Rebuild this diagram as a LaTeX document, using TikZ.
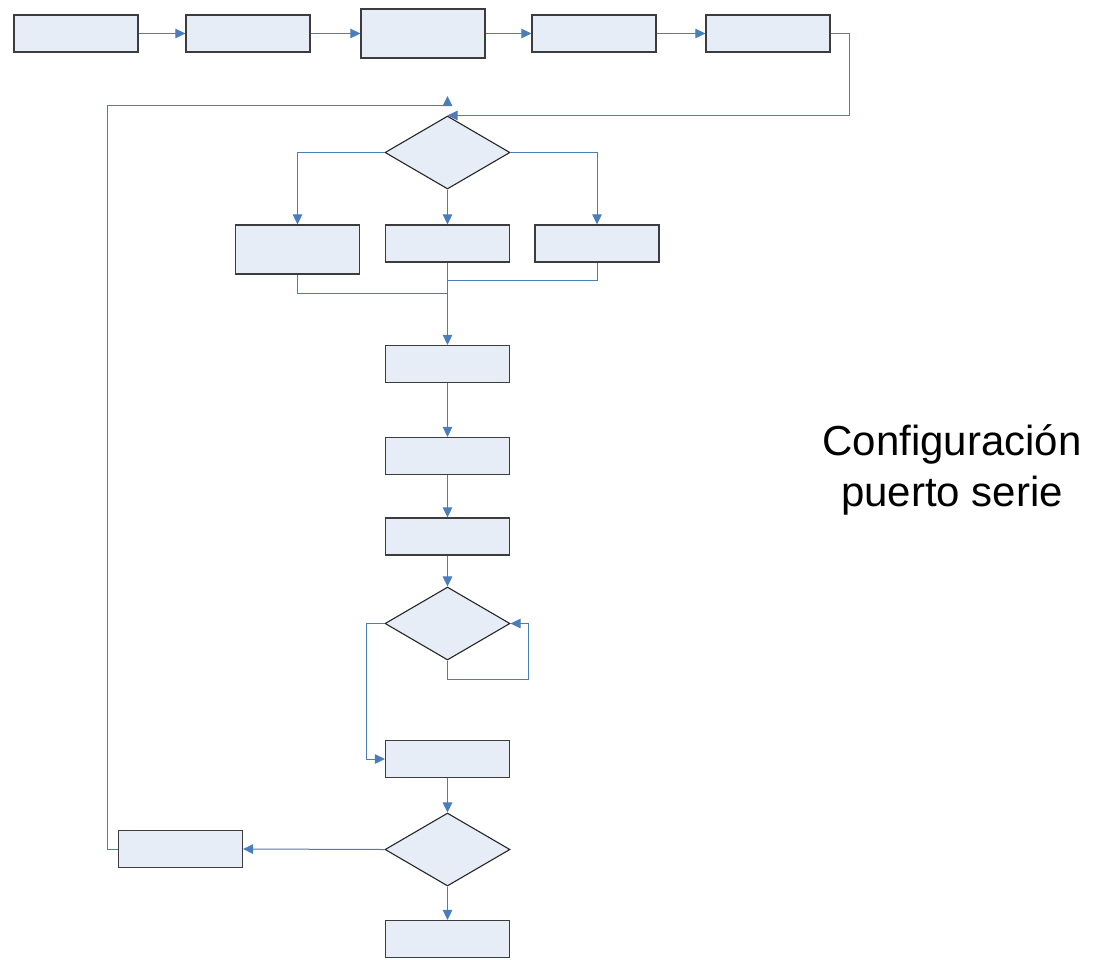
\documentclass[tikz,border=0pt]{standalone}
\usepackage{fontspec}
\setmainfont{Liberation Sans}
\usetikzlibrary{shapes.geometric,arrows.meta}
\definecolor{boxfill}{RGB}{230,237,247}
\definecolor{flowblue}{RGB}{74,126,187}
\definecolor{edgegray}{RGB}{60,60,60}
\tikzset{
  procbox/.style={draw=edgegray, line width=1.2pt, fill=boxfill, inner sep=0pt,
    minimum width=124pt, minimum height=37pt},
  tallbox/.style={procbox, minimum height=49pt},
  decision/.style={diamond, draw=black!85, line width=1.1pt, fill=boxfill, inner sep=0pt,
    minimum width=125pt, minimum height=73pt},
  conn/.style={draw=flowblue, line width=1pt, -{Triangle[length=10pt,width=9.5pt]}},
  plain/.style={draw=flowblue, line width=1pt},
  caption/.style={font=\fontsize{42}{51}\selectfont, align=center}
}
\begin{document}
\begin{tikzpicture}[x=1pt, y=-1pt]
  \useasboundingbox (0,0) rectangle (1099,959);

  % top row
  \node[procbox] (b1) at (76,33.5) {};
  \node[procbox] (b2) at (248,33.5) {};
  \node[tallbox] (b3) at (423,33.5) {};
  \node[procbox] (b4) at (594,33.5) {};
  \node[procbox] (b5) at (768,33.5) {};

  % first decision and its three branches
  \node[decision] (d1) at (447.5,152.5) {};
  \node[tallbox]  (bL) at (297.5,249.5) {};
  \node[procbox]  (bM) at (447.5,243.5) {};
  \node[procbox]  (bR) at (597,243.5) {};

  % main column
  \node[procbox]  (bA) at (447.5,364) {};
  \node[procbox]  (bB) at (447.5,456) {};
  \node[procbox]  (bC) at (447.5,536.5) {};
  \node[decision] (d2) at (447.5,623.5) {};
  \node[procbox]  (bD) at (447.5,759) {};
  \node[decision] (d3) at (447.5,849.5) {};
  \node[procbox]  (bE) at (180.5,849) {};
  \node[procbox]  (bF) at (447.5,939) {};

  % caption
  \node[caption] (cap) at (952,470) {Configuración\\puerto serie};

  % helper points
  \coordinate (mL) at (447.5,293);
  \coordinate (mR) at (447.5,280);
  \coordinate (retl) at (447.5,105);
  \coordinate (ret) at (447.5,96);

  % top row connectors
  \draw[conn] (b1) -- (b2);
  \draw[conn] (b2) -- (b3);
  \draw[conn] (b3) -- (b4);
  \draw[conn] (b4) -- (b5);
  \draw[conn] (b5.east) -- ++(19,0) |- (d1.north);

  % branches
  \draw[conn] (d1.west) -| (bL.north);
  \draw[conn] (d1.south) -- (bM.north);
  \draw[conn] (d1.east) -| (bR.north);
  \draw[plain] (bL.south) |- (mL);
  \draw[plain] (bR.south) |- (mR);
  \draw[conn] (bM.south) -- (bA.north);

  % main column
  \draw[conn] (bA) -- (bB);
  \draw[conn] (bB) -- (bC);
  \draw[conn] (bC.south) -- (d2.north);
  \draw[conn] (d2.south) -- ++(0,19) -| ([xshift=18pt]d2.east) -- (d2.east);
  \draw[conn] (d2.west) -- ++(-18,0) |- (bD.west);
  \draw[conn] (bD.south) -- (d3.north);
  \draw[conn] (d3.west) -- (bE.east);
  \draw[conn] (d3.south) -- (bF.north);

  % return path
  \draw[conn] (bE.west) -- ++(-10,0) |- (retl) -- (ret);
\end{tikzpicture}
\end{document}
